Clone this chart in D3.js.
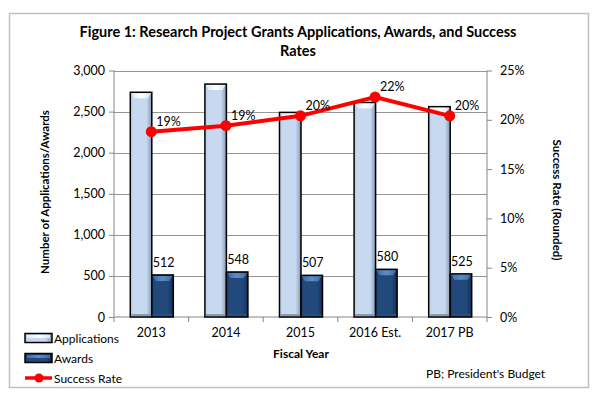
<!DOCTYPE html>
<html lang="en">
<head>
<meta charset="UTF-8">
<title>Research Project Grants</title>
<style>
  body { margin: 0; background: #fff; }
  svg { display: block; font-family: Lato, "Open Sans", sans-serif; }
</style>
</head>
<body>
<svg id="chart" width="600" height="398"></svg>
<script src="https://cdn.jsdelivr.net/npm/d3@7"></script>
<script>
const years = ["2013", "2014", "2015", "2016 Est.", "2017 PB"];
const applications = [2735, 2835, 2490, 2610, 2560];
const awards = [512, 548, 507, 580, 525];
const successRate = [18.8, 19.4, 20.4, 22.3, 20.4];
const leftTicks = [0, 500, 1000, 1500, 2000, 2500, 3000];
const rightTicks = [0, 5, 10, 15, 20, 25];

const svg = d3.select("#chart");
const plot = { left: 114, right: 487, top: 70.5, bottom: 317 };

// frame around the whole figure
svg.append("rect")
  .attr("x", 9.5).attr("y", 13.5).attr("width", 579).attr("height", 374)
  .attr("fill", "none").attr("stroke", "#bfbfbf").attr("stroke-width", 1.5);

// gradients for the bevelled bars
const defs = svg.append("defs");
function hGrad(id, stops) {
  const g = defs.append("linearGradient").attr("id", id)
    .attr("x1", "0").attr("x2", "1").attr("y1", "0").attr("y2", "0");
  stops.forEach(s => g.append("stop").attr("offset", s[0]).attr("stop-color", s[1]));
}
hGrad("appsGrad", [[0, "#b9cde6"], [0.15, "#c6d9f1"], [0.75, "#c6d9f1"], [0.9, "#9fb3cd"], [1, "#7f93ad"]]);
hGrad("awdGrad", [[0, "#1a3f6c"], [0.15, "#21497c"], [0.75, "#21497c"], [0.9, "#1a3a62"], [1, "#132c4b"]]);
hGrad("appsTop", [[0, "#dde8f6"], [0.5, "#ffffff"], [1, "#dde8f6"]]);
hGrad("awdTop", [[0, "#3d6aa3"], [0.5, "#5f8cc4"], [1, "#3d6aa3"]]);

const x0 = d3.scaleBand().domain(years).range([plot.left, plot.right]);
const x1 = d3.scaleBand().domain(["apps", "awards"])
  .range([x0.bandwidth() / 2 - 21, x0.bandwidth() / 2 + 22]);
const y = d3.scaleLinear().domain([0, 3000]).range([plot.bottom, plot.top]);
const yR = d3.scaleLinear().domain([0, 25]).range([plot.bottom, plot.top]);

// gridlines
svg.append("g").selectAll("line").data(leftTicks.filter(d => d > 0)).join("line")
  .attr("x1", plot.left).attr("x2", plot.right)
  .attr("y1", d => Math.round(y(d)) + 0.5).attr("y2", d => Math.round(y(d)) + 0.5)
  .attr("stroke", "#969696").attr("stroke-width", 1);

// left axis
const axL = svg.append("g").attr("transform", `translate(${plot.left},0)`)
  .call(d3.axisLeft(y).tickValues(leftTicks).tickSize(5).tickPadding(4).tickFormat(d3.format(",")));
// right axis
const axR = svg.append("g").attr("transform", `translate(${plot.right},0)`)
  .call(d3.axisRight(yR).tickValues(rightTicks).tickSize(5).tickPadding(8).tickFormat(d => d + "%"));
// bottom axis, ticks at category boundaries
const axB = svg.append("g").attr("transform", `translate(0,${plot.bottom})`)
  .call(d3.axisBottom(x0).tickSize(0).tickPadding(11));
axB.append("g").selectAll("line").data(years.map(d => x0(d)).concat([plot.right])).join("line")
  .attr("x1", d => d).attr("x2", d => d).attr("y1", 0).attr("y2", 5)
  .attr("stroke", "#868686");

[axL, axR, axB].forEach(a => {
  a.select(".domain").attr("stroke", "#868686");
  a.selectAll(".tick line").attr("stroke", "#868686");
  a.selectAll("text").attr("font-size", 12.5).attr("fill", "#000")
    .attr("font-family", "Lato, 'Open Sans', sans-serif");
});
axB.select(".domain").attr("d", `M${plot.left},0H${plot.right}`);
axL.select(".domain").attr("d", `M0,${plot.bottom}V${plot.top}`);
axR.select(".domain").attr("d", `M0,${plot.bottom}V${plot.top}`);

// bars
function drawBars(values, key, fill, topFill) {
  const g = svg.append("g");
  years.forEach((yr, i) => {
    const bx = x0(yr) + x1(key);
    const bw = x1.bandwidth();
    const by = y(values[i]);
    g.append("rect")
      .attr("x", bx).attr("y", by).attr("width", bw).attr("height", plot.bottom - by)
      .attr("fill", `url(#${fill})`).attr("stroke", "#000").attr("stroke-width", 1.5);
    g.append("path")
      .attr("d", `M${bx + 1},${by + 1}H${bx + bw - 1}L${bx + bw - 4},${by + 6}H${bx + 4}Z`)
      .attr("fill", `url(#${topFill})`);
    g.append("line")
      .attr("x1", bx + 1).attr("x2", bx + bw - 1)
      .attr("y1", plot.bottom - 2).attr("y2", plot.bottom - 2)
      .attr("stroke", key === "apps" ? "#8b9cb2" : "#2b4f7c").attr("stroke-width", 2);
  });
}
drawBars(applications, "apps", "appsGrad", "appsTop");
drawBars(awards, "awards", "awdGrad", "awdTop");

// award labels
svg.append("g").selectAll("text").data(awards).join("text")
  .attr("x", (d, i) => x0(years[i]) + x1("awards") + x1.bandwidth() / 2 + 1)
  .attr("y", d => y(d) - 8)
  .attr("text-anchor", "middle").attr("font-size", 12.5)
  .text(d => d);

// success rate line
const cx = i => x0(years[i]) + x0.bandwidth() / 2;
svg.append("path")
  .datum(successRate)
  .attr("d", d3.line().x((d, i) => cx(i)).y(d => yR(d)))
  .attr("fill", "none").attr("stroke", "#ff0000").attr("stroke-width", 4);
svg.append("g").selectAll("circle").data(successRate).join("circle")
  .attr("cx", (d, i) => cx(i)).attr("cy", d => yR(d)).attr("r", 5.5)
  .attr("fill", "#ff0000");
svg.append("g").selectAll("text").data(successRate).join("text")
  .attr("x", (d, i) => cx(i) + 5).attr("y", d => yR(d) - 6)
  .attr("font-size", 12.5)
  .text(d => Math.round(d) + "%");

// titles
svg.append("text").attr("x", 298).attr("y", 37).attr("text-anchor", "middle")
  .attr("font-size", 14.5).attr("font-weight", "bold")
  .text("Figure 1: Research Project Grants Applications, Awards, and Success");
svg.append("text").attr("x", 298).attr("y", 56).attr("text-anchor", "middle")
  .attr("font-size", 14.5).attr("font-weight", "bold")
  .text("Rates");
svg.append("text").attr("transform", "translate(49,192) rotate(-90)")
  .attr("text-anchor", "middle").attr("font-size", 11.5).attr("font-weight", "bold")
  .text("Number of Applications/Awards");
svg.append("text").attr("transform", "translate(553,200) rotate(90)")
  .attr("text-anchor", "middle").attr("font-size", 11.5).attr("font-weight", "bold")
  .text("Success Rate (Rounded)");
svg.append("text").attr("x", 301).attr("y", 358).attr("text-anchor", "middle")
  .attr("font-size", 12).attr("font-weight", "bold")
  .text("Fiscal Year");
svg.append("text").attr("x", 426).attr("y", 378)
  .attr("font-size", 12)
  .text("PB; President's Budget");

// legend
const legend = [
  { name: "Applications", type: "bar", fill: "appsGrad", top: "appsTop" },
  { name: "Awards", type: "bar", fill: "awdGrad", top: "awdTop" },
  { name: "Success Rate", type: "line" }
];
const lg = svg.append("g");
legend.forEach((d, i) => {
  const ly = 338 + i * 20;
  if (d.type === "bar") {
    lg.append("rect").attr("x", 25).attr("y", ly - 4.5).attr("width", 27).attr("height", 9)
      .attr("fill", `url(#${d.fill})`).attr("stroke", "#000").attr("stroke-width", 1.5);
    lg.append("rect").attr("x", 27).attr("y", ly - 3).attr("width", 23).attr("height", 3)
      .attr("fill", `url(#${d.top})`);
  } else {
    lg.append("line").attr("x1", 25).attr("x2", 52).attr("y1", ly).attr("y2", ly)
      .attr("stroke", "#ff0000").attr("stroke-width", 3.5);
    lg.append("circle").attr("cx", 39).attr("cy", ly).attr("r", 4.5).attr("fill", "#ff0000");
  }
  lg.append("text").attr("x", 54).attr("y", ly + 4.5).attr("font-size", 12).text(d.name);
});
</script>
</body>
</html>
